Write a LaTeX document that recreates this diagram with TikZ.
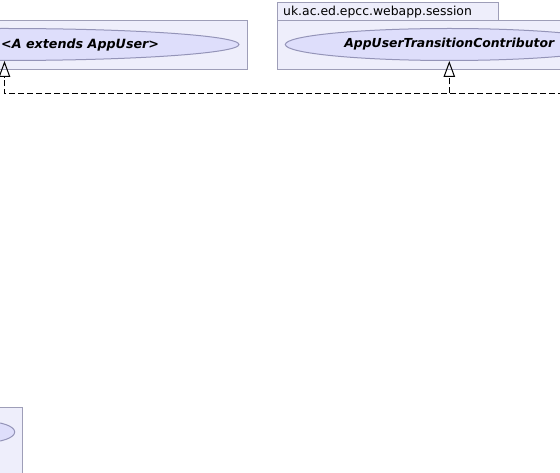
\documentclass[tikz,border=0pt]{standalone}
\usepackage{fontspec}
\setmainfont{DejaVu Sans}
\usetikzlibrary{arrows.meta,positioning,shapes.geometric}

\definecolor{pkgfill}{RGB}{238,238,251}
\definecolor{pkgline}{RGB}{158,158,184}
\definecolor{ucfill}{RGB}{222,222,251}
\definecolor{ucline}{RGB}{148,148,184}

\begin{document}
\begin{tikzpicture}[
  x=1pt, y=-1pt,
  font=\fontsize{12.4}{14}\selectfont,
  pkg/.style={draw=pkgline, fill=pkgfill, line width=1pt, inner sep=0pt},
  pkgtab/.style={pkg, anchor=north west, minimum height=17.5pt, inner xsep=5.4pt, text width=209.9pt, align=left},
  usecase/.style={ellipse, draw=ucline, fill=ucfill, line width=1pt, inner sep=0pt, minimum height=32pt, font=\fontsize{12.4}{14}\selectfont\bfseries\itshape},
  realize/.style={line width=1pt, dash pattern=on 6pt off 3pt, -{Triangle[open, length=16pt, width=11.5pt]}}
]
\useasboundingbox (0,0) rectangle (560,473);
\clip (0,0) rectangle (560,473);

% left package
\node[pkg, anchor=north east, minimum width=560pt, minimum height=49pt] (pkgA) at (247.7,20) {};
\node[usecase, minimum width=469pt] (ucA) at (4.5,44.5) {};
\node[anchor=west, inner sep=0pt, font=\fontsize{12.7}{14}\selectfont\bfseries\itshape] (lblA) at (1,44.5) {<A extends AppUser>};

% session package
\node[pkg, anchor=north west, minimum width=400pt, minimum height=49pt] (pkgS) at (277.3,20) {};
\node[pkgtab] (tabS) at (277.3,2.5) {uk.ac.ed.epcc.webapp.session};
\node[usecase, minimum width=328pt] (ucS) at (449.3,44.5) {AppUserTransitionContributor};

% bottom package
\node[pkg, anchor=north east, minimum width=300pt, minimum height=200pt] (pkgB) at (22.7,407.3) {};
\node[usecase, minimum width=60pt, minimum height=21pt] (ucB) at (-15.3,432) {};

% realisations
\coordinate (jr) at (600,93.3);
\coordinate (ja) at (ucA.south |- jr);
\coordinate (js) at (ucS.south |- jr);
\draw[realize] (jr) -- (ja) -- (ucA.south);
\draw[realize] (js) -- (ucS.south);

\end{tikzpicture}
\end{document}
